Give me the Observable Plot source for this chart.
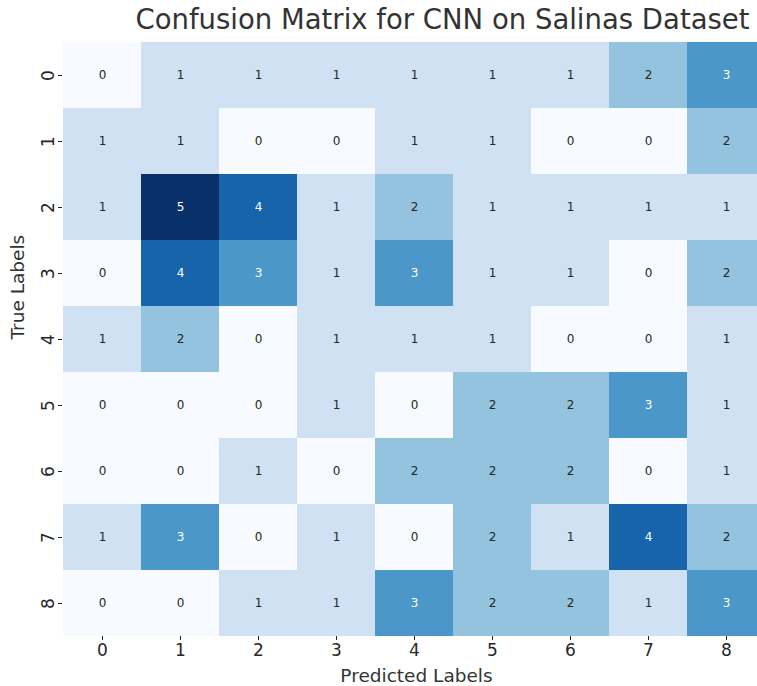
<!DOCTYPE html>
<html>
<head>
<meta charset="utf-8">
<script src="https://cdn.jsdelivr.net/npm/d3@7"></script>
<script src="https://cdn.jsdelivr.net/npm/@observablehq/plot@0.6"></script>
<style>
  html, body { margin: 0; padding: 0; background: #fff; }
  svg { font-family: "DejaVu Sans", sans-serif; }
</style>
</head>
<body>
<div id="chart"></div>
<script>
const labels = ["0", "1", "2", "3", "4", "5", "6", "7", "8"];
const matrix = [
  [0, 1, 1, 1, 1, 1, 1, 2, 3],
  [1, 1, 0, 0, 1, 1, 0, 0, 2],
  [1, 5, 4, 1, 2, 1, 1, 1, 1],
  [0, 4, 3, 1, 3, 1, 1, 0, 2],
  [1, 2, 0, 1, 1, 1, 0, 0, 1],
  [0, 0, 0, 1, 0, 2, 2, 3, 1],
  [0, 0, 1, 0, 2, 2, 2, 0, 1],
  [1, 3, 0, 1, 0, 2, 1, 4, 2],
  [0, 0, 1, 1, 3, 2, 2, 1, 3]
];
const titleText = "Confusion Matrix for CNN on Salinas Dataset";
const xLabel = "Predicted Labels";
const yLabel = "True Labels";

const cells = [];
matrix.forEach((row, i) => row.forEach((v, j) => cells.push({t: labels[i], p: labels[j], v})));

const chart = Plot.plot({
  width: 757,
  height: 686,
  marginTop: 42,
  marginBottom: 50,
  marginLeft: 62,
  marginRight: -9,
  style: {fontFamily: "DejaVu Sans, sans-serif", background: "#fff", overflow: "hidden"},
  x: {domain: labels, padding: 0, label: null},
  y: {domain: labels, padding: 0, label: null},
  color: {type: "linear", domain: [0, 5], interpolate: d3.interpolateBlues},
  marks: [
    Plot.cell(cells, {x: "p", y: "t", fill: "v", inset: 0}),
    Plot.text(cells, {x: "p", y: "t", text: d => String(d.v), fontSize: 12,
      fill: d => d.v >= 3 ? "#ffffff" : "#262626"}),
    Plot.axisX({ticks: labels, tickSize: 4, tickPadding: 3, fontSize: 17, color: "#262626"}),
    Plot.axisY({ticks: labels, tickSize: 4, tickPadding: 5, fontSize: 17, tickRotate: -90, color: "#262626"}),
    Plot.text([titleText], {frameAnchor: "top", lineAnchor: "middle", dy: -22, dx: 28, fontSize: 27.5, fill: "#333", text: d => d}),
    Plot.text([xLabel], {frameAnchor: "bottom", lineAnchor: "middle", dy: 40, dx: 2, fontSize: 18.5, fill: "#333", text: d => d}),
    Plot.text([yLabel], {frameAnchor: "left", dx: -44, rotate: -90, fontSize: 18.5, fill: "#333", text: d => d})
  ]
});
document.getElementById("chart").appendChild(chart);
</script>
</body>
</html>
